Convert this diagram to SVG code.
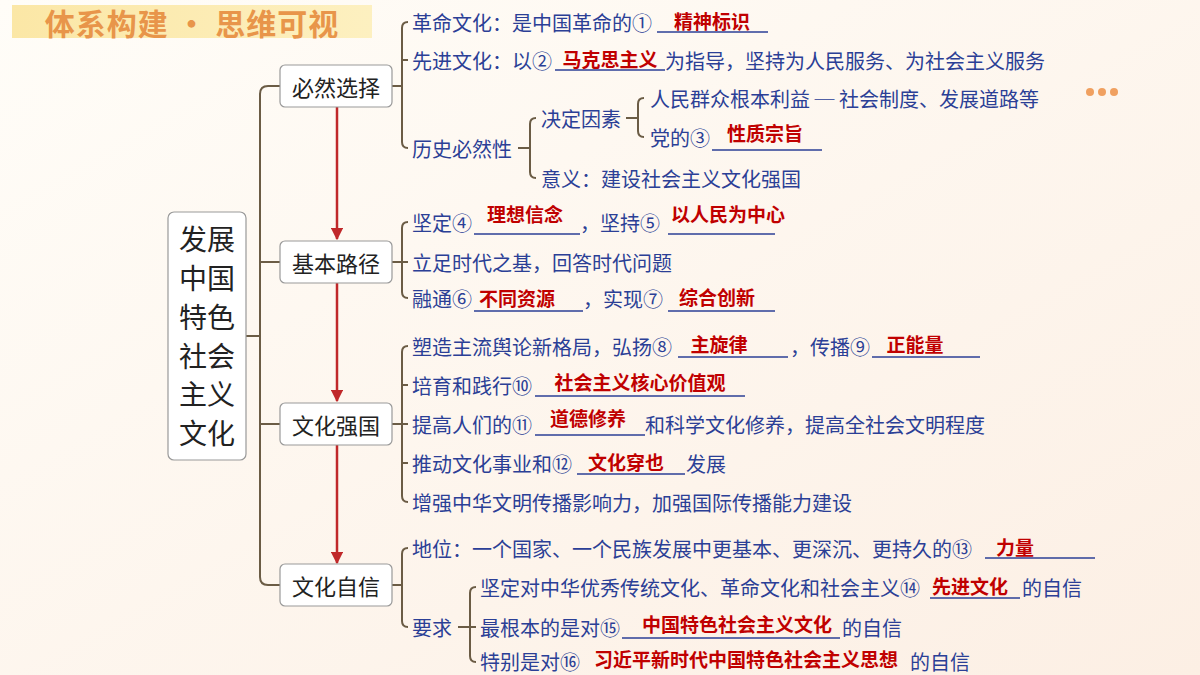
<svg xmlns="http://www.w3.org/2000/svg" width="1200" height="675" viewBox="0 0 1200 675">
<defs>
<linearGradient id="bg" x1="0" y1="0" x2="1" y2="1"><stop offset="0" stop-color="#fffdf8"/><stop offset="1" stop-color="#fcefe4"/></linearGradient>
<linearGradient id="ban" x1="0" y1="0" x2="1" y2="0"><stop offset="0" stop-color="#fbe7a6"/><stop offset="1" stop-color="#fdf0c0"/></linearGradient>
<marker id="ar" viewBox="0 0 10 10" refX="9" refY="5" markerWidth="5" markerHeight="5" orient="auto"><path d="M0,0L10,5L0,10z" fill="#c0282a"/></marker>
</defs>
<style>
text{font-family:"Noto Sans CJK SC","Noto Sans",sans-serif;dominant-baseline:central}
.t{font-size:20px;fill:#2b3f96}
.a{font-size:19px;fill:#c00000;font-weight:bold;text-anchor:middle}
.u{stroke:#2b3f96;stroke-width:1.5}
.br{fill:none;stroke:#6b5c45;stroke-width:2}
.box{fill:#fff;stroke:#999;stroke-width:1.2}
.bt{font-size:22px;fill:#222;text-anchor:middle}
.rt{font-size:28px;fill:#222;text-anchor:middle}
.red{stroke:#c0282a;stroke-width:2.5;fill:none}
</style>
<rect width="1200" height="675" fill="url(#bg)"/>
<rect x="12" y="5" width="360" height="33" fill="url(#ban)"/>
<text x="192" y="22" text-anchor="middle" style="font-size:30px;font-weight:bold;fill:#e8954a;letter-spacing:1px">体系构建 · 思维可视</text>
<g fill="#f0a060"><circle cx="1090" cy="92" r="4"/><circle cx="1102" cy="92" r="4"/><circle cx="1114" cy="92" r="4"/></g>

<g id="connectors">
<path class="br" d="M246,336H260M280,86H268Q260,86 260,94V577Q260,585 268,585H280M260,262H280M260,424H280"/>
<path class="red" d="M337,107V239" marker-end="url(#ar)"/>
<path class="red" d="M337,283V401" marker-end="url(#ar)"/>
<path class="red" d="M337,445V563" marker-end="url(#ar)"/>
<path class="br" d="M392,86H402M408,22Q402,22 402,28V142Q402,148 408,148M402,60H408"/>
<path class="br" d="M518,148H530M536,118Q530,118 530,124V172Q530,178 536,178"/>
<path class="br" d="M626,118H638M644,98Q638,98 638,104V131Q638,137 644,137"/>
<path class="br" d="M392,262H402M408,222Q402,222 402,228V292Q402,298 408,298M402,262H408"/>
<path class="br" d="M392,424H402M408,346Q402,346 402,352V496Q402,502 408,502M402,385H408M402,424H408M402,463H408"/>
<path class="br" d="M392,585H402M408,548Q402,548 402,554V621Q402,627 408,627"/>
<path class="br" d="M458,627H470M476,587Q470,587 470,593V656Q470,662 476,662M470,627H476"/>
</g>

<g id="root"><rect class="box" x="168" y="212" width="78" height="248" rx="6"/>
<text class="rt" x="207" y="238">发展</text><text class="rt" x="207" y="277">中国</text><text class="rt" x="207" y="316">特色</text><text class="rt" x="207" y="355">社会</text><text class="rt" x="207" y="393">主义</text><text class="rt" x="207" y="432">文化</text></g>
<g id="n1"><rect class="box" x="280" y="65" width="112" height="42" rx="5"/><text class="bt" x="336" y="86">必然选择</text></g>
<g id="n2"><rect class="box" x="280" y="241" width="112" height="42" rx="5"/><text class="bt" x="336" y="262">基本路径</text></g>
<g id="n3"><rect class="box" x="280" y="403" width="112" height="42" rx="5"/><text class="bt" x="336" y="424">文化强国</text></g>
<g id="n4"><rect class="box" x="280" y="564" width="112" height="42" rx="5"/><text class="bt" x="336" y="585">文化自信</text></g>

<g id="c1">
<text class="t" x="412" y="22">革命文化：是中国革命的①</text><line class="u" x1="657" y1="32" x2="768" y2="32"/><text class="a" x="712" y="20">精神标识</text>
<text class="t" x="412" y="60">先进文化：以②</text><line class="u" x1="555" y1="70" x2="665" y2="70"/><text class="a" x="610" y="58">马克思主义</text><text class="t" x="665" y="60">为指导，坚持为人民服务、为社会主义服务</text>
<text class="t" x="412" y="148">历史必然性</text>
<text class="t" x="541" y="118">决定因素</text>
<text class="t" x="650" y="98">人民群众根本利益 ─ 社会制度、发展道路等</text>
<text class="t" x="650" y="137">党的③</text><line class="u" x1="712" y1="150" x2="822" y2="150"/><text class="a" x="765" y="132">性质宗旨</text>
<text class="t" x="541" y="178">意义：建设社会主义文化强国</text>
</g>
<g id="c2">
<text class="t" x="412" y="222">坚定④</text><line class="u" x1="474" y1="234" x2="580" y2="234"/><text class="a" x="525" y="213">理想信念</text>
<text class="t" x="580" y="222">，坚持⑤</text><line class="u" x1="668" y1="234" x2="775" y2="234"/><text class="a" x="728" y="213">以人民为中心</text>
<text class="t" x="412" y="262">立足时代之基，回答时代问题</text>
<text class="t" x="412" y="298">融通⑥</text><line class="u" x1="474" y1="311" x2="583" y2="311"/><text class="a" x="517" y="297">不同资源</text>
<text class="t" x="583" y="298">，实现⑦</text><line class="u" x1="668" y1="311" x2="775" y2="311"/><text class="a" x="717" y="296">综合创新</text>
</g>
<g id="c3">
<text class="t" x="412" y="346">塑造主流舆论新格局，弘扬⑧</text><line class="u" x1="678" y1="357" x2="788" y2="357"/><text class="a" x="719" y="343">主旋律</text>
<text class="t" x="790" y="346">，传播⑨</text><line class="u" x1="872" y1="357" x2="980" y2="357"/><text class="a" x="915" y="343">正能量</text>
<text class="t" x="412" y="385">培育和践行⑩</text><line class="u" x1="535" y1="396" x2="745" y2="396"/><text class="a" x="640" y="381">社会主义核心价值观</text>
<text class="t" x="412" y="424">提高人们的⑪</text><line class="u" x1="535" y1="435" x2="645" y2="435"/><text class="a" x="588" y="417">道德修养</text><text class="t" x="645" y="424">和科学文化修养，提高全社会文明程度</text>
<text class="t" x="412" y="463">推动文化事业和⑫</text><line class="u" x1="577" y1="474" x2="685" y2="474"/><text class="a" x="626" y="461">文化穿也</text><text class="t" x="686" y="463">发展</text>
<text class="t" x="412" y="502">增强中华文明传播影响力，加强国际传播能力建设</text>
</g>
<g id="c4">
<text class="t" x="412" y="548">地位：一个国家、一个民族发展中更基本、更深沉、更持久的⑬</text><line class="u" x1="985" y1="558" x2="1095" y2="558"/><text class="a" x="1015" y="546">力量</text>
<text class="t" x="412" y="627">要求</text>
<text class="t" x="480" y="587">坚定对中华优秀传统文化、革命文化和社会主义⑭</text><line class="u" x1="930" y1="598" x2="1020" y2="598"/><text class="a" x="970" y="585">先进文化</text><text class="t" x="1022" y="587">的自信</text>
<text class="t" x="480" y="627">最根本的是对⑮</text><line class="u" x1="622" y1="638" x2="840" y2="638"/><text class="a" x="737" y="623">中国特色社会主义文化</text><text class="t" x="842" y="627">的自信</text>
<text class="t" x="480" y="661">特别是对⑯</text><text class="a" x="746" y="658">习近平新时代中国特色社会主义思想</text><text class="t" x="910" y="661">的自信</text>
</g>
</svg>
